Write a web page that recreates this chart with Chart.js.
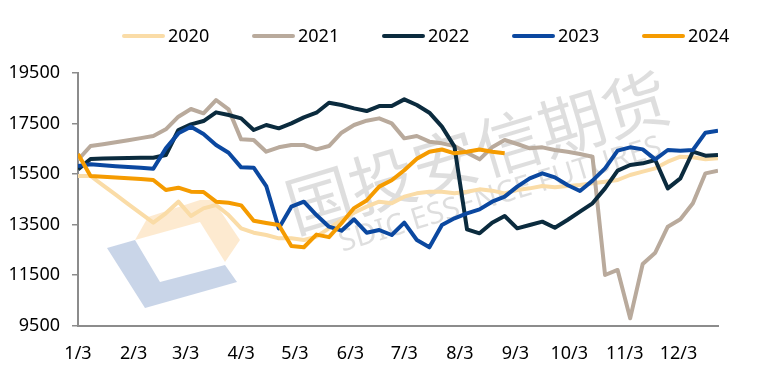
<!DOCTYPE html>
<html>
<head>
<meta charset="utf-8">
<script src="https://cdn.jsdelivr.net/npm/chart.js@4.4.1/dist/chart.umd.min.js"></script>
<style>
  html, body { margin: 0; padding: 0; background: #fff; }
  #wrap { width: 764px; height: 371px; }
</style>
</head>
<body>
<div id="wrap"><canvas id="chart" width="764" height="371"></canvas></div>
<script>
// weekly points, x = day of year
var WEEK_DAYS = [3, 10, 17, 24, 31, 38, 45, 52, 59, 66, 73, 80, 87, 94, 101, 108, 115, 122, 129, 136,
  143, 150, 157, 164, 171, 178, 185, 192, 199, 206, 213, 220, 227, 234, 241, 248, 255, 262, 269, 276,
  283, 290, 297, 304, 311, 318, 325, 332, 339, 346, 353, 360];

var TICK_DAYS = [3, 34, 63, 94, 124, 155, 185, 216, 247, 277, 308, 338];
var TICK_LABELS = ['1/3', '2/3', '3/3', '4/3', '5/3', '6/3', '7/3', '8/3', '9/3', '10/3', '11/3', '12/3'];

var Y2020 = [15420, 15420, 15050, 14680, 14310, 13940, 13572, 13942, 14404, 13836, 14140, 14272, 13876, 13348, 13176,
  13084, 12952, 12952, 12886, 13018, 13348, 13678, 13968, 14206, 14404, 14338, 14602, 14734, 14800, 14800,
  14734, 14800, 14892, 14840, 14734, 14866, 14932, 15024, 14972, 15024, 15064, 15130, 15196, 15262, 15460,
  15592, 15724, 15988, 16186, 16160, 16080, 16120];

var Y2021 = [16054, 16608, 16680, 16760, 16840, 16920, 17004, 17268, 17770, 18074, 17902, 18430, 18060, 16872, 16846,
  16384, 16556, 16648, 16648, 16476, 16608, 17136, 17440, 17612, 17704, 17506, 16912, 17004, 16780, 16714,
  16608, 16344, 16080, 16556, 16846, 16688, 16516, 16556, 16450, 16384, 16292, 16186, 11500, 11700, 9784,
  11936, 12384, 13414, 13704, 14338, 15526, 15632];

var Y2022 = [15684, 16094, 16110, 16120, 16130, 16140, 16146, 16252, 17242, 17466, 17598, 17942, 17836, 17704, 17242,
  17440, 17308, 17506, 17744, 17928, 18324, 18232, 18100, 17994, 18192, 18192, 18456, 18232, 17928, 17374,
  16582, 13308, 13150, 13572, 13836, 13348, 13480, 13612, 13374, 13678, 14008, 14338, 14932, 15632, 15856,
  15922, 16054, 14932, 15328, 16384, 16226, 16252];

var Y2023 = [15816, 15882, 15850, 15810, 15780, 15750, 15710, 16516, 17110, 17374, 17084, 16648, 16344, 15764, 15750,
  15024, 13348, 14206, 14404, 13876, 13414, 13256, 13704, 13176, 13282, 13084, 13572, 12886, 12596, 13480,
  13744, 13942, 14100, 14404, 14602, 14998, 15328, 15526, 15368, 15064, 14826, 15236, 15724, 16424, 16556,
  16476, 16080, 16450, 16424, 16450, 17136, 17216];

var Y2024 = [16292, 15420, 15390, 15360, 15330, 15300, 15262, 14866, 14958, 14800, 14787, 14404, 14364, 14259, 13650,
  13560, 13480, 12650, 12600, 13100, 13000, 13550, 14150, 14450, 15000, 15250, 15650, 16100, 16380, 16470,
  16320, 16380, 16470, 16380, 16320];

var SERIES = [
  { label: '2020', values: Y2020, color: '#fadca7' },
  { label: '2021', values: Y2021, color: '#b9aa9c' },
  { label: '2022', values: Y2022, color: '#0b2b3e' },
  { label: '2023', values: Y2023, color: '#0b48a0' },
  { label: '2024', values: Y2024, color: '#f59b00' }
];

var FONT = { family: '"Noto Sans", "DejaVu Sans", sans-serif', size: 18 };
var AXIS_GREY = '#8c8c8c';

// background watermark (logo + company name)
var watermark = {
  id: 'watermark',
  beforeDatasetsDraw: function (chart) {
    var ctx = chart.ctx;
    ctx.save();
    ctx.fillStyle = 'rgba(148,172,210,0.5)';
    ctx.beginPath();
    [[107, 248], [145, 308], [237, 282], [225, 265], [160, 282], [135, 240]].forEach(function (p, i) {
      if (i === 0) ctx.moveTo(p[0], p[1]); else ctx.lineTo(p[0], p[1]);
    });
    ctx.closePath();
    ctx.fill();
    ctx.fillStyle = 'rgba(250,208,150,0.45)';
    ctx.beginPath();
    [[135, 240], [148, 217], [200, 200], [213, 200], [240, 240], [225, 262], [200, 222]].forEach(function (p, i) {
      if (i === 0) ctx.moveTo(p[0], p[1]); else ctx.lineTo(p[0], p[1]);
    });
    ctx.closePath();
    ctx.fill();

    ctx.fillStyle = 'rgba(0,0,0,0.13)';
    ctx.textAlign = 'center';
    ctx.textBaseline = 'middle';
    ctx.translate(477, 152);
    ctx.rotate(-16.8 * Math.PI / 180);
    ctx.font = '66px "Noto Sans CJK SC", sans-serif';
    ctx.fillText('国投安信期货', 0, 0);
    ctx.font = '30px "Noto Sans", sans-serif';
    ctx.fillText('SDIC ESSENCE FUTURES', 10, 48);
    ctx.restore();
  }
};

// legend row: line sample + year
var lineLegend = {
  id: 'lineLegend',
  afterDraw: function (chart) {
    var ctx = chart.ctx;
    ctx.save();
    ctx.font = FONT.size + 'px ' + FONT.family;
    ctx.textBaseline = 'middle';
    ctx.textAlign = 'left';
    chart.data.datasets.forEach(function (ds, i) {
      var x = 122 + 130 * i, y = 36;
      ctx.strokeStyle = ds.borderColor;
      ctx.lineWidth = 4;
      ctx.lineCap = 'round';
      ctx.beginPath();
      ctx.moveTo(x + 2, y);
      ctx.lineTo(x + 41, y);
      ctx.stroke();
      ctx.fillStyle = '#000';
      ctx.fillText(ds.label, x + 46, y + 1);
    });
    ctx.restore();
  }
};

var datasets = SERIES.map(function (s, i) {
  return {
    label: s.label,
    data: s.values.map(function (v, k) { return { x: WEEK_DAYS[k], y: v }; }),
    borderColor: s.color,
    backgroundColor: s.color,
    borderWidth: 4,
    borderJoinStyle: 'round',
    pointRadius: 0,
    tension: 0,
    fill: false,
    order: SERIES.length - i
  };
});

new Chart(document.getElementById('chart'), {
  type: 'line',
  data: { datasets: datasets },
  plugins: [watermark, lineLegend],
  options: {
    responsive: false,
    animation: false,
    devicePixelRatio: 1,
    layout: { padding: { top: 73, right: 46, bottom: 0, left: 0 } },
    plugins: {
      legend: { display: false },
      tooltip: { enabled: false }
    },
    scales: {
      x: {
        type: 'linear',
        min: 3,
        max: 360,
        afterBuildTicks: function (s) {
          s.ticks = TICK_DAYS.map(function (d) { return { value: d }; });
        },
        afterFit: function (s) { s.height = 45.5; },
        ticks: {
          autoSkip: false,
          maxRotation: 0,
          padding: 10,
          color: '#000',
          font: FONT,
          callback: function (v) { return TICK_LABELS[TICK_DAYS.indexOf(v)]; }
        },
        grid: { display: false },
        border: { display: true, color: AXIS_GREY, width: 2 }
      },
      y: {
        min: 9500,
        max: 19500,
        afterFit: function (s) { s.width = 78; },
        ticks: {
          stepSize: 2000,
          padding: 12,
          color: '#000',
          font: FONT,
          callback: function (v) { return String(v); }
        },
        grid: { drawOnChartArea: false, tickLength: 6, color: AXIS_GREY, lineWidth: 1.5 },
        border: { display: true, color: AXIS_GREY, width: 2 }
      }
    }
  }
});
</script>
</body>
</html>
